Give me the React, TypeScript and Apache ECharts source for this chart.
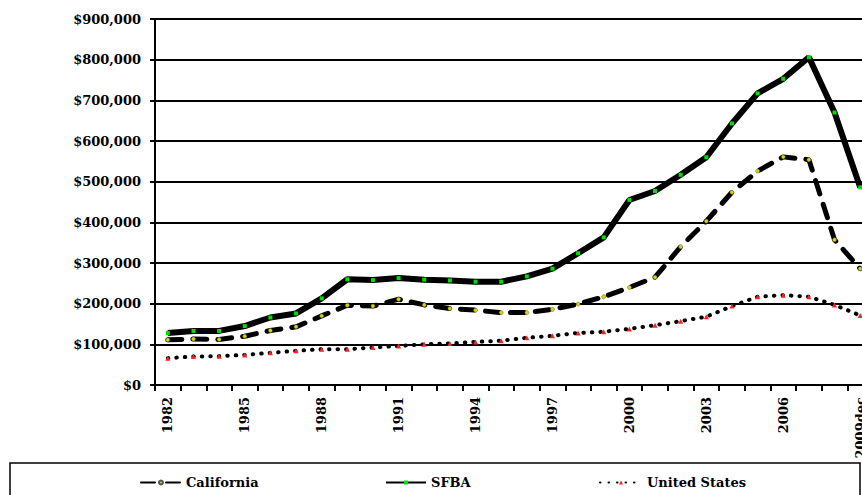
import React, { useEffect, useRef } from "react";
import * as echarts from "echarts";

const years = [
  "1982", "1983", "1984", "1985", "1986", "1987", "1988", "1989", "1990", "1991",
  "1992", "1993", "1994", "1995", "1996", "1997", "1998", "1999", "2000", "2001",
  "2002", "2003", "2004", "2005", "2006", "2007", "2008", "2009dec",
];

const california = [
  111000, 113000, 112000, 120000, 134000, 143000, 170000, 196000, 194000, 211000,
  197000, 188000, 184000, 178000, 178000, 186000, 199000, 217000, 240000, 265000,
  340000, 403000, 474000, 526000, 561000, 554000, 357000, 286000,
];

const sfba = [
  128000, 133000, 133000, 145000, 166000, 176000, 213000, 260000, 258000, 263000,
  259000, 257000, 254000, 254000, 267000, 286000, 324000, 363000, 455000, 477000,
  517000, 560000, 643000, 717000, 753000, 806000, 670000, 486000,
];

const unitedStates = [
  66000, 70000, 71000, 74000, 79000, 84000, 88000, 88000, 92000, 96000,
  100000, 102000, 106000, 109000, 116000, 121000, 128000, 131000, 138000, 147000,
  157000, 168000, 194000, 217000, 221000, 217000, 197000, 171000,
];

const FONT = "'DejaVu Serif', 'Liberation Serif', serif";

function fmt(v: number): string {
  return "$" + v.toLocaleString("en-US");
}

export default function App() {
  const ref = useRef<HTMLDivElement>(null);

  useEffect(() => {
    if (!ref.current) return;
    document.body.style.margin = "0";
    document.body.style.overflow = "hidden";
    const chart = echarts.init(ref.current, undefined, { renderer: "svg" });
    const legendText = { fontFamily: FONT, fontWeight: "bold" as const, fontSize: 13, color: "#000" };
    chart.setOption({
      animation: false,
      backgroundColor: "#fff",
      grid: {
        left: 155,
        right: -11,
        top: 19,
        bottom: 110,
        containLabel: false,
        outerBoundsMode: "none",
      },
      xAxis: {
        type: "category",
        data: years,
        boundaryGap: true,
        axisLine: { show: true, lineStyle: { color: "#000", width: 2 } },
        axisTick: { show: true, interval: 0, length: 6, lineStyle: { color: "#000", width: 2 } },
        axisLabel: {
          interval: 2,
          rotate: 90,
          margin: 12,
          fontFamily: FONT,
          fontWeight: "bold",
          fontSize: 13,
          color: "#000",
        },
        splitLine: { show: false },
      },
      yAxis: {
        type: "value",
        min: 0,
        max: 900000,
        interval: 100000,
        axisLine: { show: true, lineStyle: { color: "#000", width: 2 } },
        axisTick: { show: true, length: 5, lineStyle: { color: "#000", width: 2 } },
        axisLabel: {
          formatter: (v: number) => fmt(v),
          margin: 14,
          fontFamily: FONT,
          fontWeight: "bold",
          fontSize: 13,
          color: "#000",
        },
        splitLine: { show: true, lineStyle: { color: "#000", width: 2 } },
      },
      legend: [
        {
          data: ["California"],
          left: 135,
          top: 471,
          itemWidth: 40,
          itemHeight: 5,
          textStyle: legendText,
        },
        {
          data: ["SFBA"],
          left: 380,
          top: 471,
          itemWidth: 40,
          itemHeight: 5,
          textStyle: legendText,
        },
        {
          data: ["United States"],
          left: 594,
          top: 471,
          itemWidth: 42,
          itemHeight: 5,
          textStyle: legendText,
        },
      ],
      graphic: [
        {
          type: "rect",
          shape: { x: 10, y: 463, width: 850, height: 60 },
          style: { fill: "none", stroke: "#000", lineWidth: 1.5 },
          z: 10,
        },
      ],
      series: [
        {
          name: "California",
          type: "line",
          data: california,
          symbol: "circle",
          symbolSize: 4,
          itemStyle: { color: "#d8d800", borderColor: "#555", borderWidth: 0.5 },
          lineStyle: { color: "#000", width: 5, type: [14, 11], cap: "round" },
          z: 3,
        },
        {
          name: "SFBA",
          type: "line",
          data: sfba,
          symbol: "rect",
          symbolSize: 4,
          itemStyle: { color: "#00e000" },
          lineStyle: { color: "#000", width: 6 },
          z: 4,
        },
        {
          name: "United States",
          type: "line",
          data: unitedStates,
          symbol: "triangle",
          symbolSize: 5,
          itemStyle: { color: "#ff2020" },
          lineStyle: { color: "#000", width: 4, type: [0.5, 8], cap: "round" },
          z: 2,
        },
      ],
    });
    return () => chart.dispose();
  }, []);

  return <div ref={ref} style={{ width: 862, height: 495 }} />;
}
